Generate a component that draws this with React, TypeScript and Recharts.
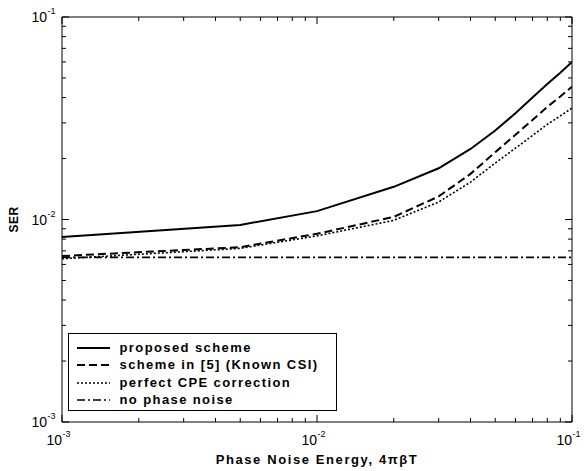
import React from "react";
import { LineChart, Line, XAxis, YAxis, Legend, Label } from "recharts";

const energy = [0.001, 0.005, 0.01, 0.02, 0.03, 0.04, 0.05, 0.06, 0.07, 0.08, 0.09, 0.1];
const proposed = [0.0082, 0.0094, 0.011, 0.0145, 0.0179, 0.0223, 0.0275, 0.0335, 0.04, 0.0467, 0.053, 0.06];
const knownCsi = [0.0066, 0.0073, 0.0085, 0.0103, 0.013, 0.0168, 0.0215, 0.0262, 0.031, 0.036, 0.0405, 0.0453];
const perfectCpe = [0.0064, 0.0072, 0.0083, 0.0099, 0.0122, 0.0153, 0.019, 0.0225, 0.026, 0.0295, 0.0325, 0.0355];
const noPhaseNoise = [0.0065, 0.0065, 0.0065, 0.0065, 0.0065, 0.0065, 0.0065, 0.0065, 0.0065, 0.0065, 0.0065, 0.0065];

const logTicks = [
  0.001, 0.002, 0.003, 0.004, 0.005, 0.006, 0.007, 0.008, 0.009,
  0.01, 0.02, 0.03, 0.04, 0.05, 0.06, 0.07, 0.08, 0.09, 0.1,
];
const majorTicks: Record<number, string> = { 0.001: "-3", 0.01: "-2", 0.1: "-1" };

const toRows = (ys: number[]) => energy.map((x, i) => ({ x, y: ys[i] }));

const series = [
  { name: "proposed scheme", data: toRows(proposed), dash: undefined, width: 2 },
  { name: "scheme in [5] (Known CSI)", data: toRows(knownCsi), dash: "8 4", width: 2 },
  { name: "perfect CPE correction", data: toRows(perfectCpe), dash: "2 2", width: 1.6 },
  { name: "no phase noise", data: toRows(noPhaseNoise), dash: "8 3 2 3", width: 1.6 },
];

const FONT = "Arial, 'Liberation Sans', sans-serif";

const tickLen = (v: number) => (majorTicks[v] ? 7 : 4);

const Pow10 = ({ x, y, exp }: { x: number; y: number; exp: string }) => (
  <g fontFamily={FONT} fill="#000">
    <text x={x} y={y} textAnchor="end" fontSize={14}>10</text>
    <text x={x + 0.5} y={y - 8} textAnchor="start" fontSize={9}>{exp}</text>
  </g>
);

const BottomTick = (props: any) => {
  const { x, y, payload } = props;
  const v = payload.value;
  const exp = majorTicks[v];
  return (
    <g>
      <line x1={x} x2={x} y1={y} y2={y - tickLen(v)} stroke="#000" strokeWidth={1} />
      {exp && <Pow10 x={x} y={y + 23} exp={exp} />}
    </g>
  );
};

const TopTick = (props: any) => {
  const { x, y, payload } = props;
  return <line x1={x} x2={x} y1={y} y2={y + tickLen(payload.value)} stroke="#000" strokeWidth={1} />;
};

const LeftTick = (props: any) => {
  const { x, y, payload } = props;
  const v = payload.value;
  const exp = majorTicks[v];
  return (
    <g>
      <line x1={x} x2={x + tickLen(v)} y1={y} y2={y} stroke="#000" strokeWidth={1} />
      {exp && <Pow10 x={x - 15} y={y + 5} exp={exp} />}
    </g>
  );
};

const RightTick = (props: any) => {
  const { x, y, payload } = props;
  return <line x1={x} x2={x - tickLen(payload.value)} y1={y} y2={y} stroke="#000" strokeWidth={1} />;
};

const SerLabel = (props: any) => {
  const vb = props.viewBox || {};
  const cx = 14;
  const cy = vb.y + vb.height / 2;
  return (
    <text x={cx} y={cy} transform={`rotate(-90 ${cx} ${cy})`} textAnchor="middle" dominantBaseline="central"
      fontFamily={FONT} fontSize={12} fontWeight="bold" fill="#000" letterSpacing={0.5}>
      SER
    </text>
  );
};

const LegendBox = () => (
  <div style={{ width: 269, height: 78, boxSizing: "border-box", border: "1px solid #000", background: "#fff", padding: "5.5px 0 0 7.5px" }}>
    {series.map((s) => (
      <div key={s.name} style={{ display: "flex", alignItems: "center", height: 17.3 }}>
        <svg width={33} height={10} style={{ marginRight: 10 }}>
          <line x1={0} x2={33} y1={5} y2={5} stroke="#000" strokeWidth={s.width} strokeDasharray={s.dash} />
        </svg>
        <span style={{ fontFamily: FONT, fontSize: 13, fontWeight: "bold", color: "#000", lineHeight: "14px", letterSpacing: 1.4, whiteSpace: "nowrap" }}>{s.name}</span>
      </div>
    ))}
  </div>
);

export default function App() {
  return (
    <div style={{ position: "absolute", left: 0, top: 0, background: "#fff" }}>
      <LineChart width={584} height={471} margin={{ top: 0, right: 0, bottom: 0, left: 0 }}>
        <XAxis xAxisId="b" dataKey="x" type="number" scale="log" domain={[0.001, 0.1]} ticks={logTicks} interval={0}
          orientation="bottom" height={49} tickSize={0} tickMargin={0} tickLine={false} tick={<BottomTick />}
          axisLine={{ stroke: "#000", strokeWidth: 1 }} allowDataOverflow>
          <Label value="Phase Noise Energy, 4πβT" position="insideBottom" offset={7}
            style={{ fontFamily: FONT, fontSize: 13, fontWeight: "bold", fill: "#000", letterSpacing: 1.6 }} />
        </XAxis>
        <XAxis xAxisId="t" dataKey="x" type="number" scale="log" domain={[0.001, 0.1]} ticks={logTicks} interval={0}
          orientation="top" height={17} tickSize={0} tickMargin={0} tickLine={false} tick={<TopTick />}
          axisLine={{ stroke: "#000", strokeWidth: 1 }} allowDataOverflow />
        <YAxis yAxisId="l" dataKey="y" type="number" scale="log" domain={[0.001, 0.1]} ticks={logTicks} interval={0}
          orientation="left" width={62} tickSize={0} tickMargin={0} tickLine={false} tick={<LeftTick />}
          axisLine={{ stroke: "#000", strokeWidth: 1 }} allowDataOverflow>
          <Label content={SerLabel} />
        </YAxis>
        <YAxis yAxisId="r" dataKey="y" type="number" scale="log" domain={[0.001, 0.1]} ticks={logTicks} interval={0}
          orientation="right" width={12} tickSize={0} tickMargin={0} tickLine={false} tick={<RightTick />}
          axisLine={{ stroke: "#000", strokeWidth: 1 }} allowDataOverflow />
        {series.map((s) => (
          <Line key={s.name} xAxisId="b" yAxisId="l" data={s.data} dataKey="y" name={s.name} type="linear"
            stroke="#000" strokeWidth={s.width} strokeDasharray={s.dash} dot={false} isAnimationActive={false} />
        ))}
        <Legend layout="vertical" align="center" verticalAlign="middle" content={<LegendBox />}
          wrapperStyle={{ position: "absolute", left: 68, top: 333, width: 269, height: 78 }} />
      </LineChart>
    </div>
  );
}
